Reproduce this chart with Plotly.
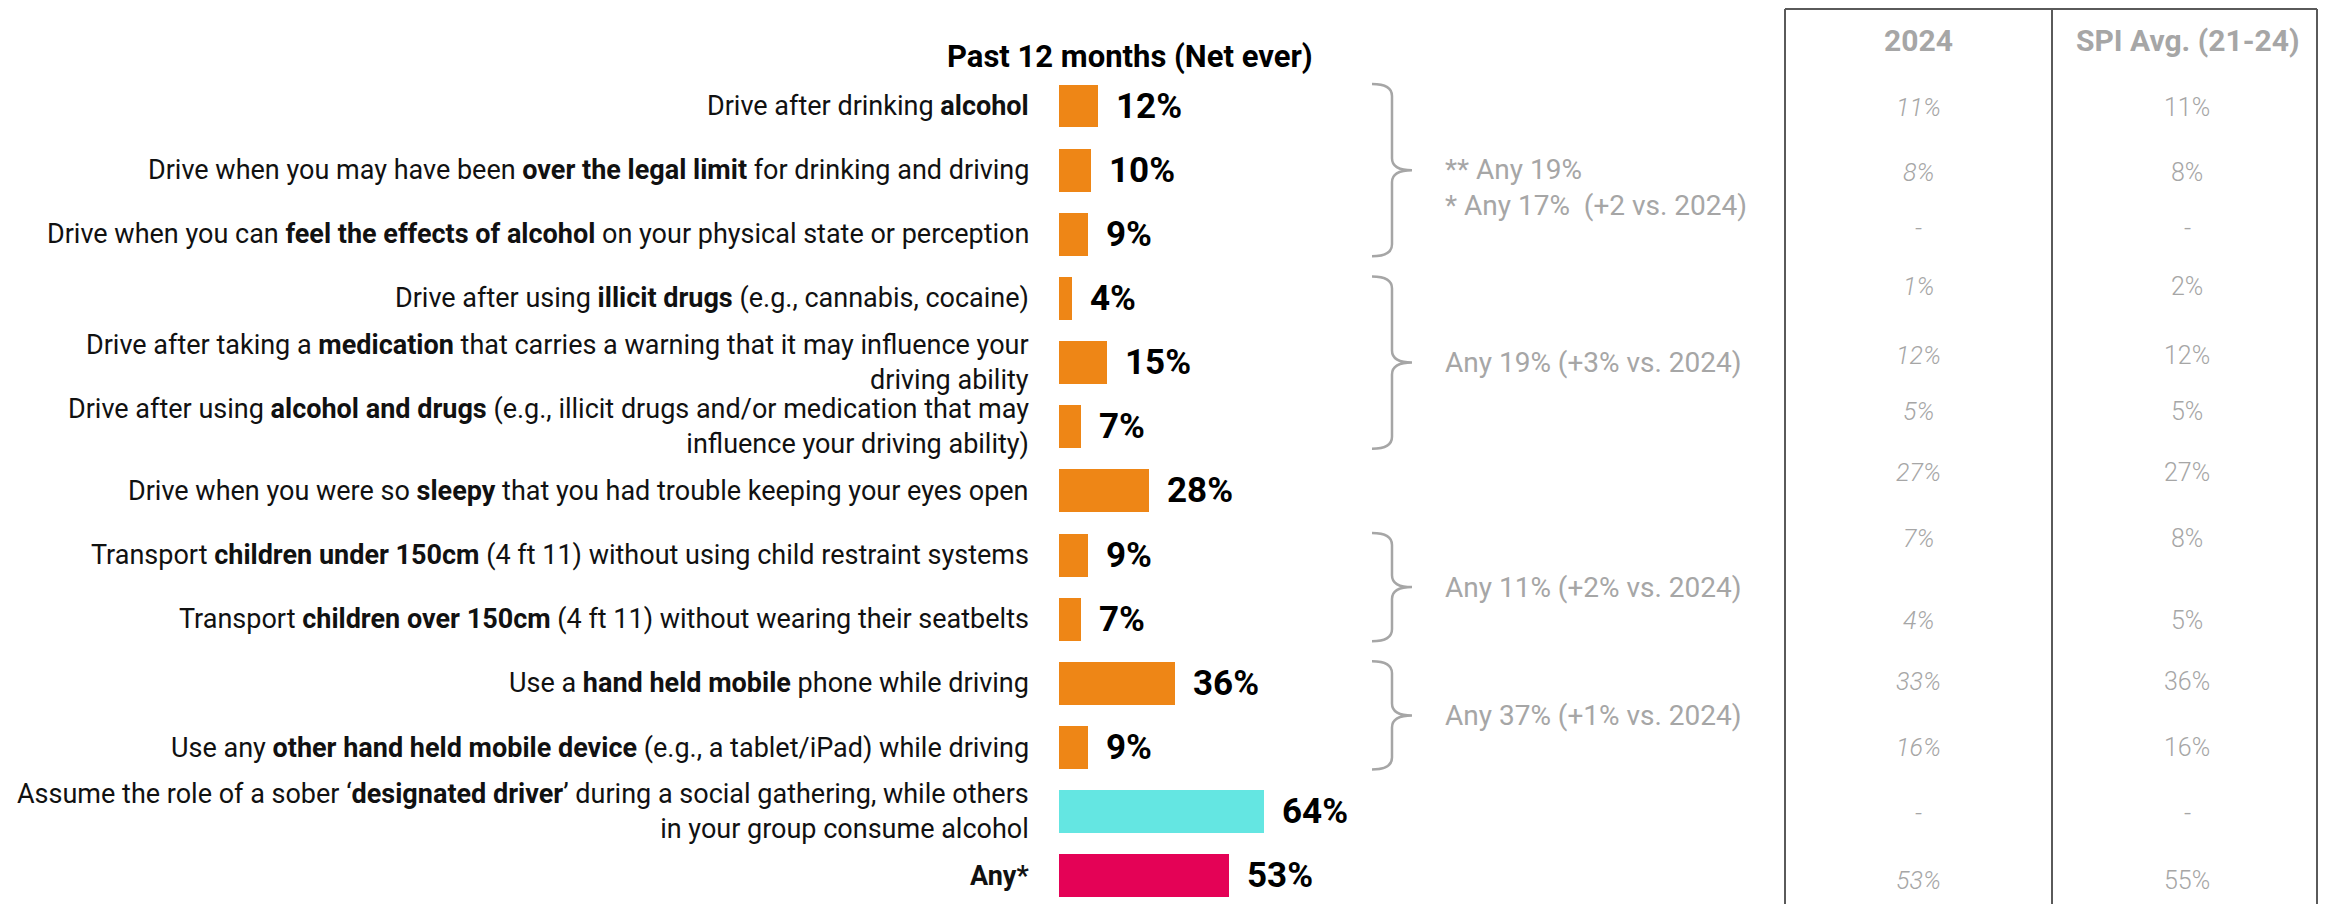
import plotly.graph_objects as go

# Data
labels = [
    "Drive after drinking <b>alcohol</b>",
    "Drive when you may have been <b>over the legal limit</b> for drinking and driving",
    "Drive when you can <b>feel the effects of alcohol</b> on your physical state or perception",
    "Drive after using <b>illicit drugs</b> (e.g., cannabis, cocaine)",
    "Drive after taking a <b>medication</b> that carries a warning that it may influence your<br>driving ability",
    "Drive after using <b>alcohol and drugs</b> (e.g., illicit drugs and/or medication that may<br>influence your driving ability)",
    "Drive when you were so <b>sleepy</b> that you had trouble keeping your eyes open",
    "Transport <b>children under 150cm</b> (4 ft 11) without using child restraint systems",
    "Transport <b>children over 150cm</b> (4 ft 11) without wearing their seatbelts",
    "Use a <b>hand held mobile</b> phone while driving",
    "Use any <b>other hand held mobile device</b> (e.g., a tablet/iPad) while driving",
    "Assume the role of a sober \u2018<b>designated driver</b>\u2019 during a social gathering, while others<br>in your group consume alcohol",
    "<b>Any*</b>",
]
values = [12, 10, 9, 4, 15, 7, 28, 9, 7, 36, 9, 64, 53]
col_2024 = ["11%", "8%", "-", "1%", "12%", "5%", "27%", "7%", "4%", "33%", "16%", "-", "53%"]
col_spi = ["11%", "8%", "-", "2%", "12%", "5%", "27%", "8%", "5%", "36%", "16%", "-", "55%"]
table_headers = ["2024", "SPI Avg. (21-24)"]

# groups shown with a brace: (first row, last row, text)
groups = [
    (0, 2, "** Any 19%<br>* Any 17%\u00a0\u00a0(+2 vs. 2024)"),
    (3, 5, "Any 19% (+3% vs. 2024)"),
    (7, 8, "Any 11% (+2% vs. 2024)"),
    (9, 10, "Any 37% (+1% vs. 2024)"),
]
title_text = "<b>Past 12 months (Net ever)</b>"

# Styles
ORANGE = "#EE8616"
TEAL = "#64E6E2"
RED = "#E40256"
GREY = "#A6A6A6"
FONT = "Roboto"
bar_colors = [ORANGE] * 11 + [TEAL, RED]
text_nudge = {0: 17}  # pixels down for the first brace text
# the table rows do not sit exactly on the bar rows (pixels, up is positive)
table_yshift = [-1, -2, 6, 12, 7, 15, 18, 17, -1, 2, 0, -2, -5]

# page body has an 8px margin, so the figure is 16px smaller than the window
OFF = 8
W, H = 2310, 896
L, T = 1051, 66
PW, PH = 321, 830
ROW0, ROW = 98, 64.15
n = len(labels)


def px_x(p):
    return (p - OFF - L) / PW


def px_y(p):
    return 1 - (p - OFF - T) / PH


def row_px(i):
    # window pixel of a row centre
    return ROW0 + ROW * i + OFF


fig = go.Figure()
fig.add_trace(go.Bar(
    x=values, y=labels, orientation="h",
    marker=dict(color=bar_colors, line=dict(width=0)),
    width=0.67, hoverinfo="skip",
))

ann = []
# category labels on the left
for lab in labels:
    ann.append(dict(x=0, y=lab, xref="x", yref="y", text=lab, showarrow=False,
                    xanchor="right", yanchor="middle", align="right", xshift=-28,
                    font=dict(family=FONT, size=27, color="#111111")))
# value labels
for lab, v in zip(labels, values):
    ann.append(dict(x=v, y=lab, xref="x", yref="y", text=f"<b>{v}%</b>", showarrow=False,
                    xanchor="left", yanchor="middle", xshift=16,
                    font=dict(family=FONT, size=35, color="#000000")))
# title
ann.append(dict(x=px_x(1130), y=px_y(56), xref="paper", yref="paper", text=title_text,
                showarrow=False, xanchor="center", yanchor="middle",
                font=dict(family=FONT, size=31, color="#000000")))

shapes = []
# braces
xt, xv, xp = 1372, 1392, 1412
r = 12
for gi, (first, last, txt) in enumerate(groups):
    yt = row_px(first) - 22
    yb = row_px(last) + 22
    ym = (yt + yb) / 2
    pts = [
        ("M", [(xt, yt)]),
        ("Q", [(xv, yt), (xv, yt + r)]),
        ("L", [(xv, ym - r)]),
        ("Q", [(xv, ym), (xp, ym)]),
        ("M", [(xv, ym + r)]),
        ("Q", [(xv, ym), (xp, ym)]),
        ("M", [(xv, ym + r)]),
        ("L", [(xv, yb - r)]),
        ("Q", [(xv, yb), (xt, yb)]),
    ]
    path = " ".join(cmd + " " + " ".join(f"{px_x(a):.5f},{px_y(b):.5f}" for a, b in p) for cmd, p in pts)
    shapes.append(dict(type="path", path=path, xref="paper", yref="paper",
                       line=dict(color=GREY, width=2.5)))
    ann.append(dict(x=px_x(1443), y=px_y(ym + text_nudge.get(gi, 0)), xref="paper", yref="paper",
                    text=txt, showarrow=False, xanchor="left", yanchor="middle", align="left",
                    font=dict(family=FONT, size=28, color=GREY)))

# comparison table
col_x = [1918, 2187]
for cx, head in zip(col_x, table_headers):
    ann.append(dict(x=px_x(cx), y=px_y(40), xref="paper", yref="paper", text=f"<b>{head}</b>",
                    showarrow=False, xanchor="center", yanchor="middle",
                    font=dict(family=FONT, size=30, color=GREY)))
for i in range(n):
    ann.append(dict(x=px_x(col_x[0]), y=labels[i], xref="paper", yref="y", text=f"<i>{col_2024[i]}</i>",
                    showarrow=False, xanchor="center", yanchor="middle", yshift=table_yshift[i],
                    font=dict(family=FONT, size=25, color=GREY, weight=300)))
    ann.append(dict(x=px_x(col_x[1]), y=labels[i], xref="paper", yref="y", text=col_spi[i],
                    showarrow=False, xanchor="center", yanchor="middle", yshift=table_yshift[i],
                    font=dict(family=FONT, size=25, color=GREY, weight=300)))
for lx in [1785, 2052, 2317]:
    shapes.append(dict(type="line", xref="paper", yref="paper", x0=px_x(lx), x1=px_x(lx),
                       y0=px_y(9), y1=px_y(915), line=dict(color="#5A5A5A", width=2)))
shapes.append(dict(type="line", xref="paper", yref="paper", x0=px_x(1785), x1=px_x(2317),
                   y0=px_y(9), y1=px_y(9), line=dict(color="#5A5A5A", width=2)))

fig.update_layout(
    width=W, height=H,
    margin=dict(l=L, r=W - L - PW, t=T, b=H - T - PH, pad=0),
    plot_bgcolor="white", paper_bgcolor="white",
    showlegend=False,
    bargap=0,
    xaxis=dict(range=[0, 100], visible=False, fixedrange=True),
    yaxis=dict(type="category", categoryorder="array", categoryarray=labels,
               range=[(T + PH - ROW0) / ROW, -(ROW0 - T) / ROW], visible=False, fixedrange=True),
    annotations=ann,
    shapes=shapes,
    font=dict(family=FONT),
)

fig.write_html("out.html")
